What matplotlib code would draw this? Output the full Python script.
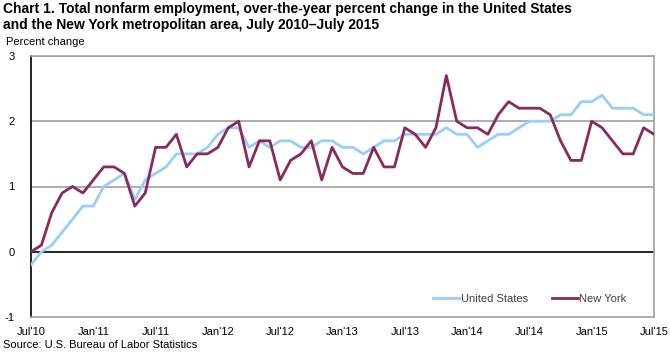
import matplotlib.pyplot as plt

plt.rcParams["font.family"] = ["Liberation Sans", "DejaVu Sans"]
plt.rcParams["axes.unicode_minus"] = False

# monthly, July 2010 .. July 2015
us_values = [
    -0.2, 0.0, 0.1, 0.3, 0.5, 0.7, 0.7, 1.0, 1.1, 1.2, 0.8, 1.1,
    1.2, 1.3, 1.5, 1.5, 1.5, 1.6, 1.8, 1.9, 1.9, 1.6, 1.7, 1.6,
    1.7, 1.7, 1.6, 1.6, 1.7, 1.7, 1.6, 1.6, 1.5, 1.6, 1.7, 1.7,
    1.8, 1.8, 1.8, 1.8, 1.9, 1.8, 1.8, 1.6, 1.7, 1.8, 1.8, 1.9,
    2.0, 2.0, 2.0, 2.1, 2.1, 2.3, 2.3, 2.4, 2.2, 2.2, 2.2, 2.1,
    2.1,
]
ny_values = [
    0.0, 0.1, 0.6, 0.9, 1.0, 0.9, 1.1, 1.3, 1.3, 1.2, 0.7, 0.9,
    1.6, 1.6, 1.8, 1.3, 1.5, 1.5, 1.6, 1.9, 2.0, 1.3, 1.7, 1.7,
    1.1, 1.4, 1.5, 1.7, 1.1, 1.6, 1.3, 1.2, 1.2, 1.6, 1.3, 1.3,
    1.9, 1.8, 1.6, 1.9, 2.7, 2.0, 1.9, 1.9, 1.8, 2.1, 2.3, 2.2,
    2.2, 2.2, 2.1, 1.7, 1.4, 1.4, 2.0, 1.9, 1.7, 1.5, 1.5, 1.9,
    1.8,
]
tick_labels = ["Jul'10", "Jan'11", "Jul'11", "Jan'12", "Jul'12", "Jan'13",
               "Jul'13", "Jan'14", "Jul'14", "Jan'15", "Jul'15"]
y_ticks = [-1, 0, 1, 2, 3]

months = list(range(len(us_values)))

fig = plt.figure(figsize=(6.7, 3.53), dpi=100)
ax = fig.add_axes([31 / 670, 36 / 353, 623 / 670, 261 / 353])

for y in [1, 2, 3]:
    ax.axhline(y, color="#a0a0a0", lw=1.2, zorder=1)
ax.axhline(0, color="black", lw=1.2, zorder=1)

ax.plot(months, us_values, color="#99ccff", lw=2.0, label="United States", zorder=3)
ax.plot(months, ny_values, color="#8b2a5a", lw=2.0, label="New York", zorder=4)

ax.set_xlim(0, 60)
ax.set_ylim(-1, 3)
ax.set_xticks(range(0, 61, 6))
ax.set_xticklabels(tick_labels)
ax.set_yticks(y_ticks)
ax.tick_params(axis="both", length=0, labelsize=8, colors="black")
ax.tick_params(axis="x", pad=7)
ax.tick_params(axis="y", pad=12)

for side in ["top", "right", "bottom"]:
    ax.spines[side].set_color("#a0a0a0")
    ax.spines[side].set_linewidth(1.2)
ax.spines["left"].set_color("black")
ax.spines["left"].set_linewidth(1.2)

leg = ax.legend(loc="center right", ncol=2, frameon=False, fontsize=8,
                handlelength=2.3, handletextpad=0.15, columnspacing=2.2,
                bbox_to_anchor=(0.972, 0.069))
for t in leg.get_texts():
    t.set_color("#404040")

fig.text(3 / 670, 1 - 2 / 353,
         "Chart 1. Total nonfarm employment, over-the-year percent change in the United States\n"
         "and the New York metropolitan area, July 2010\u2013July 2015",
         fontsize=10, fontweight="bold", va="top", ha="left", linespacing=1.2)
fig.text(6 / 670, 1 - 42 / 353, "Percent change", fontsize=8, va="center", ha="left")
fig.text(3 / 670, 1 - 345 / 353, "Source: U.S. Bureau of Labor Statistics",
         fontsize=8, va="center", ha="left")

fig.savefig("out.png", dpi=100)
